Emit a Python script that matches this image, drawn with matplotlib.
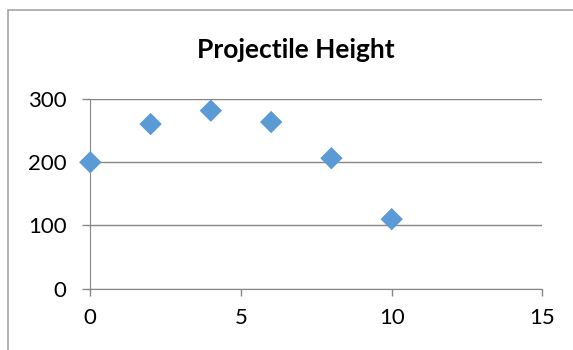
import matplotlib.pyplot as plt
from matplotlib.patches import Rectangle

# time (s) vs. height
time_s = [0, 2, 4, 6, 8, 10]
height = [200, 260.4, 281.6, 263.6, 206.4, 110]
x_ticks = [0, 5, 10, 15]
y_ticks = [0, 100, 200, 300]

plt.rcParams["font.family"] = ["Lato", "DejaVu Sans"]

fig = plt.figure(figsize=(5.73, 3.5), dpi=100)
ax = fig.add_axes([0.1576, 0.1751, 0.789, 0.542])

# outer chart frame (runs off the right and bottom edges)
fig.patches.append(Rectangle((8 / 573, -0.1), 1.2, 1 - 10 / 350 + 0.1,
                             transform=fig.transFigure, fill=False,
                             edgecolor="#a6a6a6", linewidth=1.2))

ax.scatter(time_s, height, marker="D", s=130, color="#5b9bd5",
           edgecolors="none", zorder=3, clip_on=False)

ax.set_xlim(0, 15)
ax.set_ylim(0, 300)
ax.set_xticks(x_ticks)
ax.set_yticks(y_ticks)
ax.yaxis.grid(True, color="#868686", linewidth=1)
ax.set_axisbelow(True)

for side in ["top", "right"]:
    ax.spines[side].set_visible(False)
ax.spines["left"].set_color("#868686")
ax.spines["bottom"].set_color("#868686")
ax.tick_params(axis="both", colors="#868686", labelcolor="black",
               labelsize=16, width=1)
ax.tick_params(axis="x", length=5, pad=9)
ax.tick_params(axis="y", length=6, pad=11)

fig.text(0.517, 0.857, "Projectile Height", ha="center", va="center",
         fontsize=19, fontweight="bold")

fig.savefig("out.png", dpi=100)
